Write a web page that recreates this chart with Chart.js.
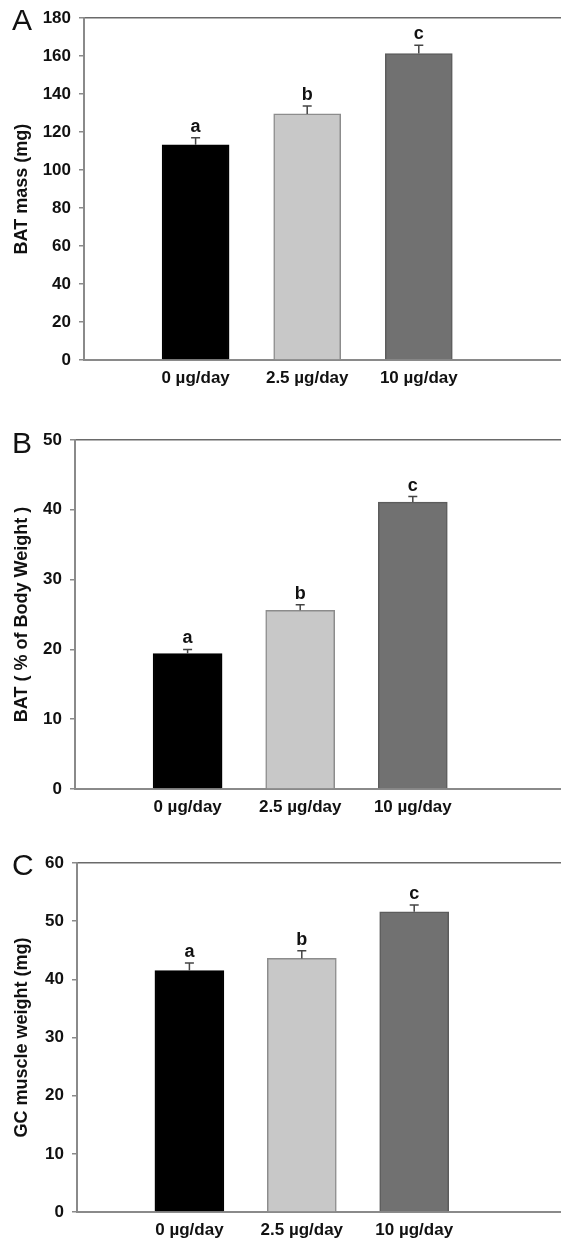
<!DOCTYPE html>
<html>
<head>
<meta charset="utf-8">
<script src="https://cdn.jsdelivr.net/npm/chart.js@4/dist/chart.umd.min.js"></script>
<style>
  body { margin: 0; background: #fff; width: 561px; height: 1243px; overflow: hidden; position: relative; }
  canvas { position: absolute; left: 0; }
</style>
</head>
<body>
<canvas id="chartA" width="642" height="400" style="top:0px"></canvas>
<canvas id="chartB" width="638" height="409" style="top:420px"></canvas>
<canvas id="chartC" width="639" height="409" style="top:843px"></canvas>
<script>
const grupos = ['0 µg/day', '2.5 µg/day', '10 µg/day'];
const letras = ['a', 'b', 'c'];

const batMassa = [113.3, 129.6, 161.4];
const batMassaErro = [3.7, 4.1, 4.3];

const batPerc = [19.4, 25.6, 41.1];
const batPercErro = [0.6, 0.8, 0.8];

const gcPeso = [41.5, 43.6, 51.6];
const gcPesoErro = [1.3, 1.3, 1.2];

const coresBarra = ['#000000', '#c8c8c8', '#717171'];
const coresBorda = ['#000000', '#8c8c8c', '#5c5c5c'];

const fonteTxt = 'Liberation Sans, Arial, sans-serif';

// error bars, letters above them and the panel letter
const pluginErros = {
    id: 'erros',
    afterDatasetsDraw(chart, args, opts) {
        const ctx = chart.ctx;
        const yScale = chart.scales.y;
        const meta = chart.getDatasetMeta(0);
        const valores = chart.data.datasets[0].data;
        ctx.save();
        meta.data.forEach((el, i) => {
            const v = valores[i];
            if (v === null) {
              return;
            }
            const e = opts.erros[i - 1];
            const yTopo = yScale.getPixelForValue(v + e);
            ctx.strokeStyle = '#444';
            ctx.lineWidth = 1.5;
            ctx.beginPath();
            ctx.moveTo(el.x, el.y);
            ctx.lineTo(el.x, yTopo);
            ctx.moveTo(el.x - 4.5, yTopo);
            ctx.lineTo(el.x + 4.5, yTopo);
            ctx.stroke();
            ctx.fillStyle = '#111';
            ctx.font = 'bold 18px ' + fonteTxt;
            ctx.textAlign = 'center';
            ctx.textBaseline = 'alphabetic';
            ctx.fillText(letras[i - 1], el.x, yTopo - 6);
        });
        ctx.font = '30px ' + fonteTxt;
        ctx.fillStyle = '#111';
        ctx.textAlign = 'left';
        ctx.fillText(opts.painel, 12, opts.painelY);
        ctx.restore();
    }
};

function criarGrafico(id, valores, erros, maximo, passo, titulo, eixoX, larguraBarra, painel, painelY) {
    const labels = ['', ...grupos, '', ''];
    const dados = [null, ...valores, null, null];
    const cores = [null, ...coresBarra, null, null];
    const bordas = [null, ...coresBorda, null, null];

    return new Chart(document.getElementById(id).getContext('2d'), {
        type: 'bar',
        data: {
            labels: labels,
            datasets: [{
                data: dados,
                backgroundColor: cores,
                borderColor: bordas,
                borderWidth: 1.5,
                barThickness: larguraBarra
            }]
        },
        options: {
            responsive: false,
            animation: false,
            layout: { padding: { top: id === 'chartA' ? 15 : 20, right: 0, bottom: 0, left: 0 } },
            plugins: {
                legend: { display: false },
                tooltip: { enabled: false },
                erros: { erros: erros, painel: painel, painelY: painelY }
            },
            scales: {
                x: {
                    offset: false,
                    grid: { display: false },
                    border: { display: true, color: '#8a8a8a', width: 2 },
                    ticks: {
                        autoSkip: false,
                        maxRotation: 0,
                        padding: 0,
                        color: '#111',
                        font: { family: fonteTxt, size: 17, weight: 'bold' }
                    },
                    afterFit: s => { s.height = 40; }
                },
                y: {
                    min: 0,
                    max: maximo,
                    ticks: {
                        stepSize: passo,
                        padding: 8,
                        color: '#111',
                        font: { family: fonteTxt, size: 17, weight: 'bold' }
                    },
                    grid: {
                        drawTicks: true,
                        tickLength: 5,
                        tickColor: '#8a8a8a',
                        tickWidth: 1.5,
                        lineWidth: 1.5,
                        color: c => c.tick.value === maximo ? '#6a6a6a' : 'rgba(0,0,0,0)'
                    },
                    border: { display: true, color: '#8a8a8a', width: 2 },
                    title: {
                        display: true,
                        text: titulo,
                        color: '#111',
                        padding: { top: 11, bottom: 0 },
                        font: { family: fonteTxt, size: 18, weight: 'bold' }
                    },
                    afterFit: s => { s.width = eixoX; }
                }
            }
        },
        plugins: [pluginErros]
    });
}

document.addEventListener('DOMContentLoaded', () => {
    criarGrafico('chartA', batMassa, batMassaErro, 180, 20, 'BAT mass (mg)', 84, 67, 'A', 30);
    criarGrafico('chartB', batPerc, batPercErro, 50, 10, 'BAT ( % of Body Weight )', 75, 69, 'B', 33);
    criarGrafico('chartC', gcPeso, gcPesoErro, 60, 10, 'GC muscle weight (mg)', 77, 69, 'C', 32);
});
</script>
</body>
</html>
